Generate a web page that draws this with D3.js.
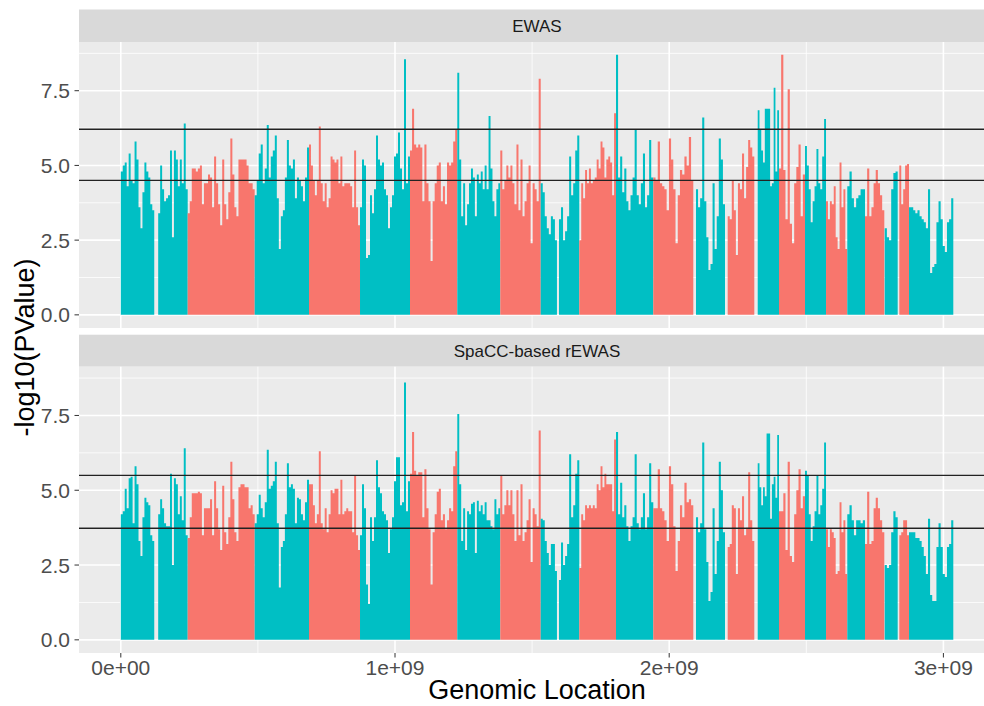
<!DOCTYPE html>
<html>
<head>
<meta charset="utf-8">
<script src="https://cdn.jsdelivr.net/npm/d3@7"></script>
<style>
  body { margin: 0; background: #fff; }
  text { font-family: "Liberation Sans", Arial, sans-serif; }
</style>
</head>
<body>
<div id="chart"></div>
<script>
// chromosomes and their span on the concatenated genome axis (Mb)
const chroms = ["1","2","3","4","5","6","7","8","9","10","11","12","13","14","15","16","17","18","19","20","21","22","X"];
const chromStart = [0, 244, 488.3, 686.4, 872.4, 1054.7, 1227.2, 1384, 1531.4, 1672.1, 1806, 1942, 2097.7, 2213.3, 2322.8, 2400.4, 2495.3, 2571.9, 2649.5, 2714.1, 2786, 2839.2, 2874.6];
const chromEnd = [244, 488.3, 686.4, 872.4, 1054.7, 1227.2, 1384, 1531.4, 1672.1, 1806, 1942, 2087.9, 2203.5, 2310.4, 2400.4, 2495.3, 2571.9, 2649.5, 2714.1, 2784.5, 2833.3, 2874.6, 3036.1];

// -log10(p) peak per bin, bins evenly spread over each chromosome (null = no probes)
const ewasValues = [
  [4.8,5.0,5.1,4.3,5.4,4.5,4.4,5.8,5.2,3.6,2.9,4.1,5.1,4.8,4.6,3.7,3.5,null,null,3.4,5.0,4.2,3.8,3.9,4.0,5.5,2.6,5.5,5.2,4.3,5.2,4.4,6.4,4.2],
  [3.4,3.8,4.9,4.9,4.8,4.9,5.0,3.7,4.4,4.4,4.7,4.6,3.6,5.3,4.4,3.7,3.0,5.2,3.7,3.2,4.1,5.9,4.7,3.6,3.3,5.2,5.2,5.2,5.2,5.0,4.4,4.4,4.2],
  [4.0,4.5,5.4,5.7,4.4,4.9,6.35,4.6,5.3,5.5,6.0,3.9,2.2,3.3,3.5,4.6,5.85,5.0,4.9,5.2,3.9,4.6,4.5,4.3,3.8,4.6,5.6],
  [5.7,5.0,4.5,4.0,4.5,6.3,4.4,3.8,4.4,3.6,3.9,5.3,5.2,5.1,5.2,4.4,5.3,4.3,4.4,4.4,4.4,4.3,3.6,5.5,3.6,3.0],
  [3.6,5.2,5.0,1.9,2.0,4.0,3.4,4.2,6.0,5.2,5.0,5.1,4.2,4.0,2.9,3.6,4.0,5.3,5.4,6.1,4.9,4.2,8.55,4.4,5.3],
  [5.5,6.9,5.7,5.6,5.7,5.6,3.8,5.7,4.4,3.8,1.8,3.8,4.4,5.0,5.1,3.8,4.3,3.7,5.1,5.0,5.1,5.8,6.2],
  [8.1,5.2,3.3,4.4,3.0,3.7,4.4,4.9,4.6,3.3,4.7,4.4,4.8,4.2,5.0,4.2,6.65,4.9,3.8,3.3,4.2,4.4],
  [5.5,4.2,4.5,5.0,4.6,5.0,4.4,3.7,5.7,3.5,5.2,3.3,3.8,4.4,5.0,2.4,4.4,4.2,3.8,7.9],
  [4.4,4.1,3.3,2.9,2.7,3.3,3.2,2.5,null,3.2,3.6,2.5,2.8,3.3,5.3,4.0,4.4,5.5,6.0],
  [2.5,4.4,3.9,4.85,4.4,4.9,4.4,4.5,4.6,5.2,4.9,5.8,5.6,4.6,5.2,5.3,5.1,4.0,6.75],
  [8.7,4.6,5.3,4.1,4.9,3.8,3.5,4.0,4.6,6.2,4.0,3.7,4.4,5.4,3.6,4.0,5.85,4.6],
  [4.6,4.5,5.8,4.4,4.3,4.2,3.5,5.9,5.2,4.2,2.4,4.0,4.85,4.7,5.3,5.0,5.95,4.5],
  [4.2,3.6,3.9,6.6,3.8,2.6,1.5,1.7,4.4,2.2,3.3,5.9,5.2,3.7],
  [3.3,3.2,4.5,3.5,2.0,4.4,4.2,5.4,3.9,4.95,5.85,5.6,5.3],
  [6.85,6.2,5.5,5.1,6.9,6.9,6.9,4.3,4.4,7.6,4.8,6.85],
  [4.9,8.7,4.85,3.2,7.55,3.05,2.4,4.4,4.95,5.7,3.3,4.7],
  [5.65,5.0,4.2,3.1,3.8,4.3,5.55,4.4,4.2,5.3,6.55],
  [3.8,3.2,3.8,3.7,4.3,2.6,2.2,5.1,3.6,4.2,2.2],
  [4.3,4.8,3.9,3.6,3.9,4.0,4.2,4.2],
  [3.3,4.9,3.3,3.6,4.4,4.85,4.4,4.0,3.5],
  [2.9,2.6,2.5,4.2,4.75,4.8],
  [5.0,3.7,4.2,5.0,5.05],
  [3.6,3.6,3.5,3.4,3.5,3.3,3.2,3.1,2.9,4.2,1.4,1.6,1.7,3.1,3.8,3.2,2.3,2.1,3.1,3.2,3.9]
];

const rewasValues = [
  [4.2,4.3,5.05,4.4,5.4,5.45,3.9,5.8,5.2,3.3,2.8,4.1,4.75,4.6,4.5,3.5,3.3,null,null,4.2,4.7,4.4,3.9,3.8,3.8,5.55,2.5,5.4,5.2,4.2,4.8,4.0,6.4,3.5],
  [3.4,4.1,4.9,4.9,4.9,4.95,4.9,3.5,4.4,4.4,4.4,4.7,3.5,5.3,4.4,3.7,3.0,5.15,3.6,3.2,4.1,5.95,4.7,3.6,3.3,5.1,5.2,5.2,5.1,5.1,4.4,4.5,4.2],
  [3.9,4.2,4.85,4.4,4.1,4.6,6.35,5.05,5.15,5.3,5.95,3.9,1.75,3.1,3.3,4.2,5.9,5.1,5.2,5.05,3.9,4.75,4.7,4.2,4.0,4.6,5.35],
  [5.2,5.2,4.5,3.9,4.2,6.3,3.9,3.7,4.4,3.6,4.2,5.0,4.9,5.05,5.05,4.2,5.35,4.2,4.3,4.4,4.3,4.3,3.6,5.5,3.5,3.0],
  [3.5,5.2,4.4,1.85,1.2,4.1,3.3,4.1,6.0,5.1,4.9,4.3,4.2,4.0,2.9,3.7,4.1,5.3,6.1,6.1,4.5,4.6,8.6,4.3,5.3],
  [5.55,6.95,5.65,5.5,5.6,5.6,4.1,5.7,4.4,3.7,1.85,3.6,4.2,4.95,5.05,4.0,4.2,3.7,4.0,4.4,4.3,5.8,6.3],
  [7.55,5.2,3.3,4.4,3.0,4.3,4.2,4.55,4.6,2.9,4.65,4.3,4.5,4.2,4.6,4.0,4.0,3.8,3.7,4.7,4.2,4.4],
  [5.5,4.2,4.5,5.0,4.5,5.0,4.2,3.3,5.0,3.5,5.2,3.3,3.6,4.0,4.7,2.6,4.4,4.2,3.8,7.0],
  [4.05,4.0,3.3,2.9,2.5,3.2,3.2,2.3,null,2.0,3.25,2.5,2.8,3.2,6.2,4.1,4.5,5.55,6.0],
  [2.4,4.2,4.0,4.5,4.4,4.5,4.4,4.5,4.4,5.2,5.0,5.8,5.1,5.55,5.2,5.2,5.2,4.3,6.7],
  [6.95,4.2,5.25,4.1,4.5,3.8,3.3,3.8,4.1,6.2,3.9,3.7,4.1,4.9,3.7,4.1,5.9,4.6],
  [4.4,4.4,5.7,4.4,4.3,4.0,3.3,5.8,5.2,3.8,2.3,3.3,4.5,4.1,5.25,4.6,4.7,4.5],
  [4.1,3.6,3.9,6.6,3.7,2.6,1.3,1.6,4.4,2.2,3.3,5.95,5.0,3.6],
  [3.1,3.2,4.5,4.4,2.2,4.4,4.0,4.8,3.5,3.75,5.6,4.0,3.3],
  [5.9,5.1,4.5,5.1,4.8,6.9,6.9,4.05,5.2,5.45,4.75,6.85],
  [4.3,4.3,4.9,3.0,5.95,2.8,2.6,4.2,5.0,5.7,4.4,4.8],
  [5.65,5.5,4.2,3.3,3.8,4.3,5.5,4.2,4.5,5.05,6.6],
  [3.7,3.1,3.7,3.6,3.4,2.2,2.3,4.6,3.6,4.0,2.2],
  [4.2,4.5,4.0,3.5,4.0,4.0,3.9,4.0],
  [3.2,4.95,3.2,3.3,4.4,4.75,4.4,4.0,3.6],
  [2.5,2.4,2.5,3.6,4.3,4.1],
  [3.5,3.6,4.0,4.0,3.5],
  [3.6,3.6,3.6,3.4,3.4,3.3,3.1,2.8,2.2,4.05,1.5,1.3,1.3,3.1,3.9,3.1,2.2,2.1,3.1,3.2,4.0]
];

const ewasThresholds = [6.21, 4.5];
const rewasThresholds = [5.5, 3.73];
const panelTitles = ["EWAS", "SpaCC-based rEWAS"];
const yTicks = [0, 2.5, 5, 7.5];
const yMinorTicks = [1.25, 3.75, 6.25, 8.75];
const xTicks = [0, 1000, 2000, 3000];          // Mb
const xTickLabels = ["0e+00", "1e+09", "2e+09", "3e+09"];
const xMinorTicks = [500, 1500, 2500];
const chromColors = ["#00BFC4", "#F8766D"];

const width = 984, height = 706;
const panelLeft = 79, panelRight = 995;

const panels = [
  { title: panelTitles[0], values: ewasValues, thresholds: ewasThresholds, stripTop: 9.5, top: 42, bottom: 328 },
  { title: panelTitles[1], values: rewasValues, thresholds: rewasThresholds, stripTop: 334.7, top: 366.7, bottom: 653 }
];

const x = d3.scaleLinear().domain([0, 3000]).range([120.8, 943.4]);

const svg = d3.select("#chart").append("svg")
  .attr("width", width)
  .attr("height", height);

// split each chromosome into runs of consecutive bins (nulls break a run),
// each run becomes one step-shaped area so neighbouring bins don't leave seams
function runsFor(values) {
  const runs = [];
  values.forEach((arr, ci) => {
    const step = (chromEnd[ci] - chromStart[ci]) / arr.length;
    let cur = null;
    arr.forEach((v, i) => {
      if (v == null) { cur = null; return; }
      if (!cur) { cur = { ci, pts: [] }; runs.push(cur); }
      cur.pts.push({ pos: chromStart[ci] + i * step, v });
      cur.end = { pos: chromStart[ci] + (i + 1) * step, v };
    });
  });
  runs.forEach(r => r.pts.push(r.end));
  return runs;
}

panels.forEach(p => {
  const y = d3.scaleLinear().domain([-0.44, 9.13]).range([p.bottom, p.top]);
  const g = svg.append("g");

  // strip
  g.append("rect")
    .attr("x", panelLeft).attr("y", p.stripTop)
    .attr("width", panelRight - panelLeft).attr("height", p.top - p.stripTop)
    .attr("fill", "#D9D9D9");
  g.append("text")
    .attr("x", (panelLeft + panelRight) / 2)
    .attr("y", (p.stripTop + p.top) / 2)
    .attr("dy", "0.36em")
    .attr("text-anchor", "middle")
    .attr("fill", "#1A1A1A")
    .attr("font-size", "17px")
    .text(p.title);

  // panel background
  g.append("rect")
    .attr("x", panelLeft).attr("y", p.top)
    .attr("width", panelRight - panelLeft).attr("height", p.bottom - p.top)
    .attr("fill", "#EBEBEB");

  // grid
  g.selectAll(".ymin").data(yMinorTicks).join("line")
    .attr("x1", panelLeft).attr("x2", panelRight)
    .attr("y1", d => y(d)).attr("y2", d => y(d))
    .attr("stroke", "#fff").attr("stroke-width", 0.8);
  g.selectAll(".xmin").data(xMinorTicks).join("line")
    .attr("x1", d => x(d)).attr("x2", d => x(d))
    .attr("y1", p.top).attr("y2", p.bottom)
    .attr("stroke", "#fff").attr("stroke-width", 0.8);
  g.selectAll(".ymaj").data(yTicks).join("line")
    .attr("x1", panelLeft).attr("x2", panelRight)
    .attr("y1", d => y(d)).attr("y2", d => y(d))
    .attr("stroke", "#fff").attr("stroke-width", 1.6);
  g.selectAll(".xmaj").data(xTicks).join("line")
    .attr("x1", d => x(d)).attr("x2", d => x(d))
    .attr("y1", p.top).attr("y2", p.bottom)
    .attr("stroke", "#fff").attr("stroke-width", 1.6);

  // bars as step areas
  const area = d3.area()
    .curve(d3.curveStepAfter)
    .x(d => x(d.pos))
    .y0(y(0))
    .y1(d => y(d.v));
  g.append("g").selectAll("path").data(runsFor(p.values)).join("path")
    .attr("d", d => area(d.pts))
    .attr("fill", d => chromColors[d.ci % 2]);

  // threshold lines
  g.selectAll(".thr").data(p.thresholds).join("line")
    .attr("x1", panelLeft).attr("x2", panelRight)
    .attr("y1", d => y(d)).attr("y2", d => y(d))
    .attr("stroke", "#222").attr("stroke-width", 1.3);

  // y axis
  g.selectAll(".ytick").data(yTicks).join("line")
    .attr("x1", panelLeft - 4.5).attr("x2", panelLeft)
    .attr("y1", d => y(d)).attr("y2", d => y(d))
    .attr("stroke", "#333").attr("stroke-width", 1);
  g.selectAll(".ylab").data(yTicks).join("text")
    .attr("x", panelLeft - 9)
    .attr("y", d => y(d))
    .attr("dy", "0.36em")
    .attr("text-anchor", "end")
    .attr("fill", "#4D4D4D")
    .attr("font-size", "21px")
    .text(d => d.toFixed(1));
});

// x axis (bottom panel only)
const bottomY = panels[1].bottom;
svg.selectAll(".xtick").data(xTicks).join("line")
  .attr("x1", d => x(d)).attr("x2", d => x(d))
  .attr("y1", bottomY).attr("y2", bottomY + 4.5)
  .attr("stroke", "#333").attr("stroke-width", 1);
svg.selectAll(".xlab").data(xTicks).join("text")
  .attr("x", d => x(d))
  .attr("y", bottomY + 22)
  .attr("text-anchor", "middle")
  .attr("fill", "#4D4D4D")
  .attr("font-size", "21px")
  .text((d, i) => xTickLabels[i]);

// axis titles
svg.append("text")
  .attr("x", (panelLeft + panelRight) / 2)
  .attr("y", 699)
  .attr("text-anchor", "middle")
  .attr("fill", "#000")
  .attr("font-size", "27px")
  .text("Genomic Location");

svg.append("text")
  .attr("transform", `translate(34, ${(panels[0].top + panels[1].bottom) / 2}) rotate(-90)`)
  .attr("text-anchor", "middle")
  .attr("fill", "#000")
  .attr("font-size", "27px")
  .text("-log10(PValue)");
</script>
</body>
</html>
